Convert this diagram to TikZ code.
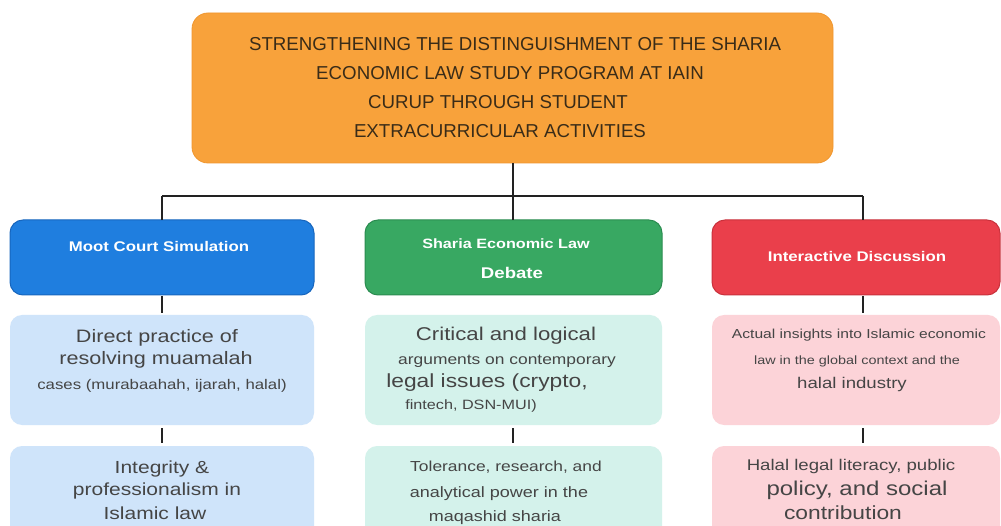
\documentclass[tikz,border=0pt]{standalone}
\usepackage{fontspec}
\setmainfont{Liberation Sans}
\newfontfamily\wf[FakeStretch=1.2]{Liberation Sans}
\definecolor{orangeC}{HTML}{F8A23B}
\definecolor{orangeD}{HTML}{F0962E}
\definecolor{blueC}{HTML}{1F7EDF}
\definecolor{blueD}{HTML}{1766BE}
\definecolor{greenC}{HTML}{38A862}
\definecolor{greenD}{HTML}{2B8C50}
\definecolor{redC}{HTML}{EA3F4B}
\definecolor{redD}{HTML}{C9313C}
\definecolor{lblue}{HTML}{CFE4FA}
\definecolor{lgreen}{HTML}{D4F2EB}
\definecolor{lpink}{HTML}{FCD3D8}
\definecolor{titleT}{HTML}{3A2C18}
\definecolor{bodyT}{HTML}{454545}
\definecolor{lineC}{HTML}{222222}
\newcommand\fs[1]{\fontsize{#1}{#1}\selectfont}
\tikzset{
  boxbase/.style={rectangle, inner sep=0pt, outer sep=0pt},
  topbox/.style={boxbase, fill=orangeC, draw=orangeD, line width=0.8pt, rounded corners=16pt},
  headbox/.style={boxbase, rounded corners=13pt, line width=1pt, minimum height=75pt},
  lightbox/.style={boxbase, rounded corners=12pt},
  conn/.style={draw=lineC, line width=1.7pt},
  ttl/.style={inner sep=0pt, anchor=mid, yshift=-3.5pt, text=titleT, font=\fs{18.7}},
  hd/.style={inner sep=0pt, anchor=mid, yshift=-3pt, text=white, font=\wf\bfseries\fs{#1}},
  bt/.style={inner sep=0pt, anchor=mid, yshift=-3.5pt, text=bodyT, font=\wf\fs{#1}}
}
\begin{document}
\begin{tikzpicture}[x=1pt,y=-1pt]
\useasboundingbox (0,0) rectangle (1001,526);
\clip (0,0) rectangle (1001,526);
\fill[white] (0,0) rectangle (1001,526);

% boxes
\node[topbox, minimum width=641pt, minimum height=150pt] (top) at (512.5,88) {};
\node[headbox, fill=blueC, draw=blueD, minimum width=304pt] (b1) at (162,257.5) {};
\node[headbox, fill=greenC, draw=greenD, minimum width=297pt] (g1) at (513.5,257.5) {};
\node[headbox, fill=redC, draw=redD, minimum width=288pt] (r1) at (856,257.5) {};
\node[lightbox, fill=lblue, minimum width=304pt, minimum height=110pt] (b2) at (162,370) {};
\node[lightbox, fill=lgreen, minimum width=297pt, minimum height=110pt] (g2) at (513.5,370) {};
\node[lightbox, fill=lpink, minimum width=288pt, minimum height=110pt] (r2) at (856,370) {};
\node[lightbox, fill=lblue, minimum width=304pt, minimum height=100pt] (b3) at (162,496) {};
\node[lightbox, fill=lgreen, minimum width=297pt, minimum height=100pt] (g3) at (513.5,496) {};
\node[lightbox, fill=lpink, minimum width=288pt, minimum height=100pt] (r3) at (856,496) {};

% connectors
\coordinate (hub) at (513,196);
\coordinate (hl) at (162,196);
\coordinate (hr) at (863,196);
\draw[conn] (top.south -| hub) -- (hub);
\draw[conn] (hl) -- (hr);
\draw[conn] (hl) -- (hl |- b1.north);
\draw[conn] (hub) -- (hub |- g1.north);
\draw[conn] (hr) -- (hr |- r1.north);
\draw[conn, shorten <=1pt, shorten >=2pt] (b1.south) -- (b2.north);
\draw[conn, shorten <=1pt, shorten >=2pt] (hr |- r1.south) -- (hr |- r2.north);
\draw[conn, shorten <=3pt, shorten >=3pt] (b2.south) -- (b3.north);
\draw[conn, shorten <=3pt, shorten >=3pt] (hub |- g2.south) -- (hub |- g3.north);
\draw[conn, shorten <=3pt, shorten >=3pt] (hr |- r2.south) -- (hr |- r3.north);

% title
\node[ttl] (t1) at (515,44) {STRENGTHENING THE DISTINGUISHMENT OF THE SHARIA};
\node[ttl] (t2) at (510,73) {ECONOMIC LAW STUDY PROGRAM AT IAIN};
\node[ttl] (t3) at (498,102) {CURUP THROUGH STUDENT};
\node[ttl] (t4) at (500,131) {EXTRACURRICULAR ACTIVITIES};

% headers
\node[hd=14] (b1t) at (159,246) {Moot Court Simulation};
\node[hd=13.5] (g1t) at (506,243) {Sharia Economic Law};
\node[hd=15.5] (g1u) at (512,273) {Debate};
\node[hd=14] (r1t) at (857,256) {Interactive Discussion};

% level 2
\node[bt=18] (b2a) at (157,336) {Direct practice of};
\node[bt=18] (b2b) at (156,358) {resolving muamalah};
\node[bt=14] (b2c) at (162,383) {cases (murabaahah, ijarah, halal)};
\node[bt=18.5] (g2a) at (506,334) {Critical and logical};
\node[bt=14.5] (g2b) at (507,358) {arguments on contemporary};
\node[bt=19] (g2c) at (487,381) {legal issues (crypto,};
\node[bt=13.5] (g2d) at (471,403) {fintech, DSN-MUI)};
\node[bt=13] (r2a) at (859,332) {Actual insights into Islamic economic};
\node[bt=12] (r2b) at (857,358) {law in the global context and the};
\node[bt=15.5] (r2c) at (852,382) {halal industry};

% level 3
\node[bt=17.5] (b3a) at (162,467) {Integrity \&};
\node[bt=17.5] (b3b) at (157,489) {professionalism in};
\node[bt=17.5] (b3c) at (155,513) {Islamic law};
\node[bt=14.5] (g3a) at (506,465) {Tolerance, research, and};
\node[bt=15] (g3b) at (499,491) {analytical power in the};
\node[bt=15] (g3c) at (495,515) {maqashid sharia};
\node[bt=15.5] (r3a) at (851,464) {Halal legal literacy, public};
\node[bt=20] (r3b) at (857,489) {policy, and social};
\node[bt=19] (r3c) at (843,513) {contribution};
\end{tikzpicture}
\end{document}
